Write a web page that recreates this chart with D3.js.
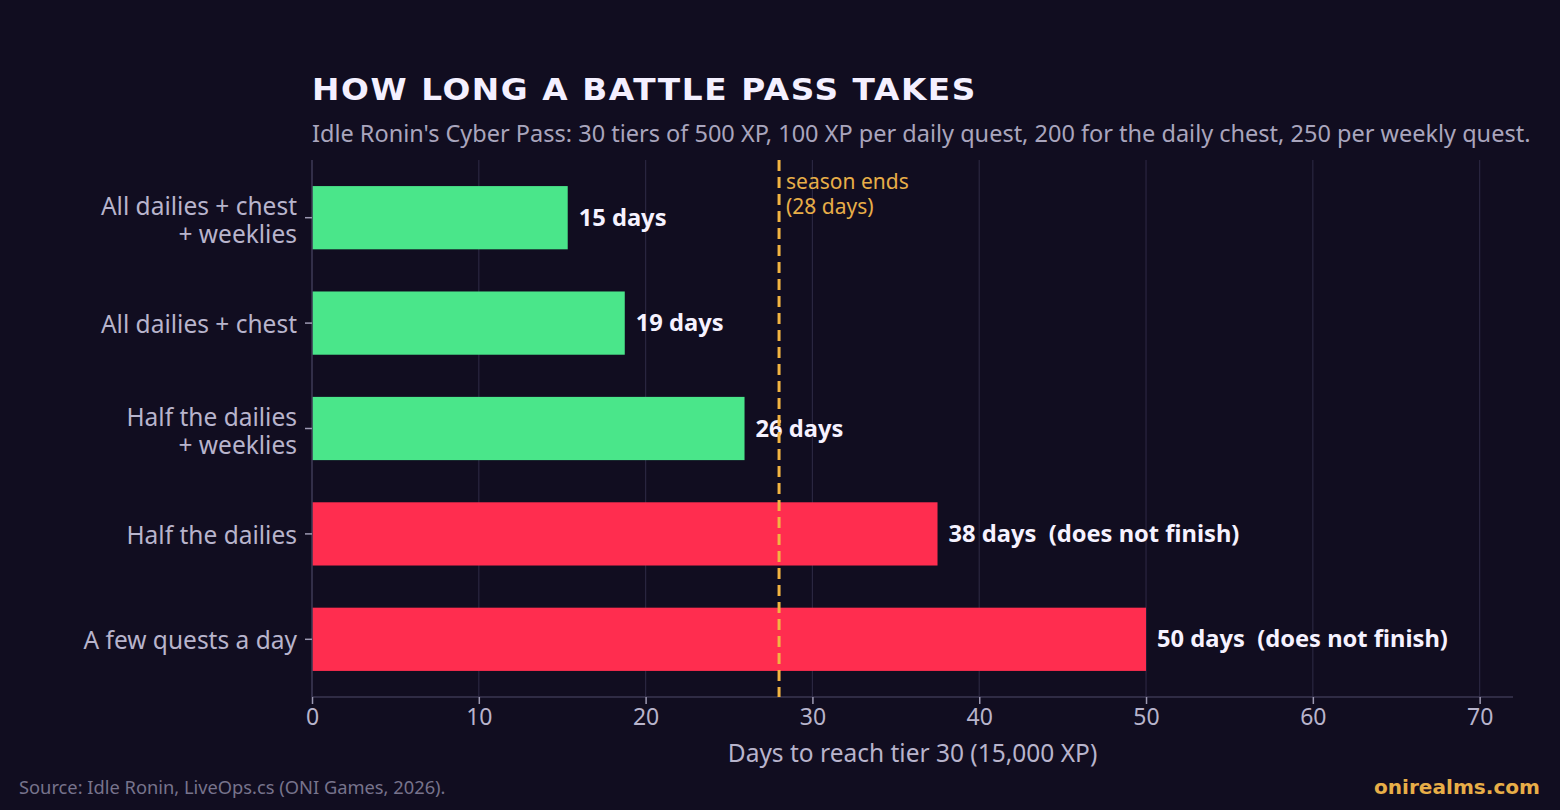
<!DOCTYPE html>
<html>
<head>
<meta charset="utf-8">
<script src="https://cdn.jsdelivr.net/npm/d3@7"></script>
<style>
  html, body { margin: 0; padding: 0; background: #110d20; }
  svg { display: block; font-family: "Noto Sans", "Open Sans", sans-serif; }
  text { white-space: pre; }
</style>
</head>
<body>
<div id="display"></div>
<script>
// chart data
const categories = [
    ['All dailies + chest', '+ weeklies'],
    ['All dailies + chest'],
    ['Half the dailies', '+ weeklies'],
    ['Half the dailies'],
    ['A few quests a day']
];
const days = [15.33, 18.75, 25.93, 37.5, 50];
const valueLabels = ['15 days', '19 days', '26 days', '38 days  (does not finish)', '50 days  (does not finish)'];
const finishes = [true, true, true, false, false];
const xTicks = [0, 10, 20, 30, 40, 50, 60, 70];
const seasonDays = 28;

const W = 1560, H = 810;
let margin = {top: 160, right: 47, bottom: 113, left: 312};

let svg = d3.select('#display')
    .append('svg')
        .attr('width', W)
        .attr('height', H);

svg.append('rect')
    .attr('width', W).attr('height', H)
    .attr('fill', '#110d20');

// scales
let xScale = d3.scaleLinear()
    .domain([0, 72])
    .range([margin.left, W - margin.right]);

let yScale = d3.scaleBand()
    .domain(d3.range(categories.length))
    .range([165, 692])
    .paddingInner(0.4)
    .paddingOuter(0.2);

let plotBottom = H - margin.bottom;

// grid lines
svg.append('g')
    .selectAll('line')
    .data(xTicks)
    .join('line')
        .attr('x1', d => xScale(d))
        .attr('x2', d => xScale(d))
        .attr('y1', margin.top)
        .attr('y2', plotBottom)
        .attr('stroke', '#2a2640')
        .attr('stroke-width', 1.2);

// bars
svg.append('g')
    .selectAll('rect')
    .data(days)
    .join('rect')
        .attr('x', xScale(0))
        .attr('y', (d, i) => yScale(i))
        .attr('width', d => xScale(d) - xScale(0))
        .attr('height', yScale.bandwidth())
        .attr('fill', (d, i) => finishes[i] ? '#4ae68a' : '#ff2d4f');

// x axis
let xAxis = svg.append('g')
    .attr('transform', 'translate(0,' + plotBottom + ')')
    .call(d3.axisBottom(xScale).tickValues(xTicks).tickSize(7).tickPadding(5));
xAxis.select('.domain').attr('stroke', '#3a3650').attr('stroke-width', 1.5)
    .attr('d', 'M' + xScale(0) + ',0H' + xScale(72));
xAxis.selectAll('.tick line').attr('stroke', '#9d99b2').attr('stroke-width', 1.5);
xAxis.selectAll('.tick text')
    .attr('fill', '#b8b4cc')
    .attr('font-size', 23)
    .attr('font-family', '"Noto Sans", sans-serif');

// y axis
let yAxis = svg.append('g')
    .attr('transform', 'translate(' + xScale(0) + ',0)')
    .call(d3.axisLeft(yScale).tickSize(7).tickFormat(''));
yAxis.select('.domain').attr('stroke', '#3a3650').attr('stroke-width', 1.5)
    .attr('d', 'M0,' + margin.top + 'V' + plotBottom);
yAxis.selectAll('.tick line').attr('stroke', '#9d99b2').attr('stroke-width', 1.5);

// category labels
svg.append('g')
    .selectAll('text')
    .data(categories)
    .join('text')
        .attr('x', xScale(0) - 15)
        .attr('y', (d, i) => yScale(i) + yScale.bandwidth() / 2)
        .attr('text-anchor', 'end')
        .attr('fill', '#b8b4cc')
        .attr('font-size', 24.5)
        .each(function(d) {
            let t = d3.select(this);
            let n = d.length;
            d.forEach((line, j) => {
                t.append('tspan')
                    .attr('x', xScale(0) - 15)
                    .attr('dy', j === 0 ? (10 - (n - 1) * 13) + 'px' : '28px')
                    .text(line);
            });
        });

// value labels
svg.append('g')
    .selectAll('text')
    .data(days)
    .join('text')
        .attr('x', d => xScale(d) + 11)
        .attr('y', (d, i) => yScale(i) + yScale.bandwidth() / 2 + 8)
        .attr('fill', '#f6f2ff')
        .attr('font-size', 23.7)
        .attr('font-weight', 'bold')
        .text((d, i) => valueLabels[i]);

// season end marker
svg.append('line')
    .attr('x1', xScale(seasonDays))
    .attr('x2', xScale(seasonDays))
    .attr('y1', margin.top)
    .attr('y2', plotBottom)
    .attr('stroke', '#f2b441')
    .attr('stroke-width', 3)
    .attr('stroke-dasharray', '11,6');

svg.append('text')
    .attr('x', xScale(seasonDays) + 7)
    .attr('y', 189)
    .attr('fill', '#e8ae48')
    .attr('font-size', 21)
    .selectAll('tspan')
    .data(['season ends', '(28 days)'])
    .join('tspan')
        .attr('x', xScale(seasonDays) + 7)
        .attr('dy', (d, i) => i === 0 ? 0 : 25)
        .text(d => d);

// axis title
svg.append('text')
    .attr('x', (xScale(0) + xScale(72)) / 2)
    .attr('y', 762)
    .attr('text-anchor', 'middle')
    .attr('fill', '#b8b4cc')
    .attr('font-size', 24.5)
    .text('Days to reach tier 30 (15,000 XP)');

// title + subtitle
svg.append('text')
    .attr('x', 312)
    .attr('y', 100)
    .attr('fill', '#f4f0ff')
    .attr('font-size', 31)
    .attr('font-weight', 'bold')
    .attr('font-family', '"DejaVu Sans", sans-serif')
    .attr('letter-spacing', 1.5)
    .attr('textLength', 665)
    .attr('lengthAdjust', 'spacingAndGlyphs')
    .text('HOW LONG A BATTLE PASS TAKES');

svg.append('text')
    .attr('x', 312)
    .attr('y', 142)
    .attr('fill', '#a9a5bd')
    .attr('font-size', 23.5)
    .text("Idle Ronin's Cyber Pass: 30 tiers of 500 XP, 100 XP per daily quest, 200 for the daily chest, 250 per weekly quest.");

// footer
svg.append('text')
    .attr('x', 19)
    .attr('y', 794)
    .attr('fill', '#77738c')
    .attr('font-size', 18.3)
    .text('Source: Idle Ronin, LiveOps.cs (ONI Games, 2026).');

svg.append('text')
    .attr('x', 1540)
    .attr('y', 794)
    .attr('text-anchor', 'end')
    .attr('fill', '#e8ae48')
    .attr('font-size', 20)
    .attr('font-weight', 'bold')
    .attr('font-family', '"DejaVu Sans", sans-serif')
    .attr('textLength', 166)
    .attr('lengthAdjust', 'spacingAndGlyphs')
    .text('onirealms.com');
</script>
</body>
</html>
